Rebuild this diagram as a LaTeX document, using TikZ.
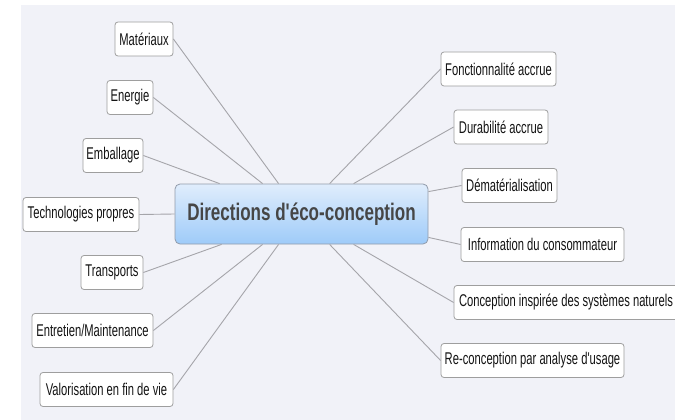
\documentclass[tikz,border=0pt]{standalone}
\usepackage{graphicx}
\usepackage{fontspec}
\setmainfont{Liberation Sans}
\usetikzlibrary{calc}
\definecolor{bg}{RGB}{241,242,248}
\definecolor{leafborder}{RGB}{158,158,158}
\definecolor{leaftext}{RGB}{20,20,20}
\definecolor{linkc}{RGB}{165,165,170}
\definecolor{ctop}{RGB}{224,237,252}
\definecolor{cbot}{RGB}{158,203,249}
\definecolor{cborder}{RGB}{145,155,170}
\definecolor{ctext}{RGB}{70,70,70}
\newcommand\sq[1]{\scalebox{0.66}[1]{#1}}
\newcommand\sqc[1]{\scalebox{0.71}[1]{#1}}
\begin{document}
\begin{tikzpicture}[x=1pt,y=-1pt,
  leaf/.style={draw=leafborder, fill=white, rounded corners=3pt, inner sep=0pt,
    minimum height=34pt, font=\fontsize{17}{19}\selectfont, text=leaftext, line width=0.8pt},
  centre/.style={draw=cborder, top color=ctop, bottom color=cbot, rounded corners=5pt,
    inner sep=0pt, minimum width=253pt, minimum height=60pt, line width=0.8pt,
    font=\fontsize{24}{26}\selectfont\bfseries, text=ctext},
  link/.style={draw=linkc, line width=0.9pt}]
\useasboundingbox (0,0) rectangle (675,420);
\fill[white] (0,0) rectangle (675,420);
\fill[bg] (21,5) rectangle (675,420);

\node[centre] (c) at (301.5,214) {\sqc{Directions d\textquotesingle éco-conception}};

% left leaves
\node[leaf, minimum width=58pt] (mat) at (144,39) {\sq{Matériaux}};
\node[leaf, minimum width=46pt] (ene) at (130,97.5) {\sq{Energie}};
\node[leaf, minimum width=60pt] (emb) at (113,155.5) {\sq{Emballage}};
\node[leaf, minimum width=116pt] (tec) at (81,214.5) {\sq{Technologies propres}};
\node[leaf, minimum width=62pt] (tra) at (112,272.5) {\sq{Transports}};
\node[leaf, minimum width=121pt] (ent) at (92.5,330.5) {\sq{Entretien/Maintenance}};
\node[leaf, minimum width=133pt] (val) at (106.5,389.5) {\sq{Valorisation en fin de vie}};

% right leaves
\node[leaf, minimum width=115pt] (fon) at (498.5,69) {\sq{Fonctionnalité accrue}};
\node[leaf, minimum width=94pt] (dur) at (501,127) {\sq{Durabilité accrue}};
\node[leaf, minimum width=95pt] (dem) at (509.5,185.5) {\sq{Dématérialisation}};
\node[leaf, minimum width=163pt] (inf) at (542.5,244.5) {\sq{Information du consommateur}};
\node[leaf, minimum width=224pt] (con) at (566,302.5) {\sq{Conception inspirée des systèmes naturels}};
\node[leaf, minimum width=183pt] (rec) at (532.5,360.5) {\sq{Re-conception par analyse d\textquotesingle usage}};

% connectors
\draw[link] (mat.east) -- ([xshift=104pt]c.north west);
\draw[link] (ene.east) -- ([xshift=88pt]c.north west);
\draw[link] (emb.east) -- ([xshift=45pt]c.north west);
\draw[link] (tec.east) -- (c.west);
\draw[link] (tra.east) -- ([xshift=47pt]c.south west);
\draw[link] (ent.east) -- ([xshift=88pt]c.south west);
\draw[link] (val.east) -- ([xshift=104pt]c.south west);

\draw[link] (fon.west) -- ([xshift=155pt]c.north west);
\draw[link] (dur.west) -- ([xshift=179pt]c.north west);
\draw[link] (dem.west) -- ([yshift=-8pt]c.north east);
\draw[link] (inf.west) -- ([yshift=7pt]c.south east);
\draw[link] (con.west) -- ([xshift=179pt]c.south west);
\draw[link] (rec.west) -- ([xshift=155pt]c.south west);
\end{tikzpicture}
\end{document}
